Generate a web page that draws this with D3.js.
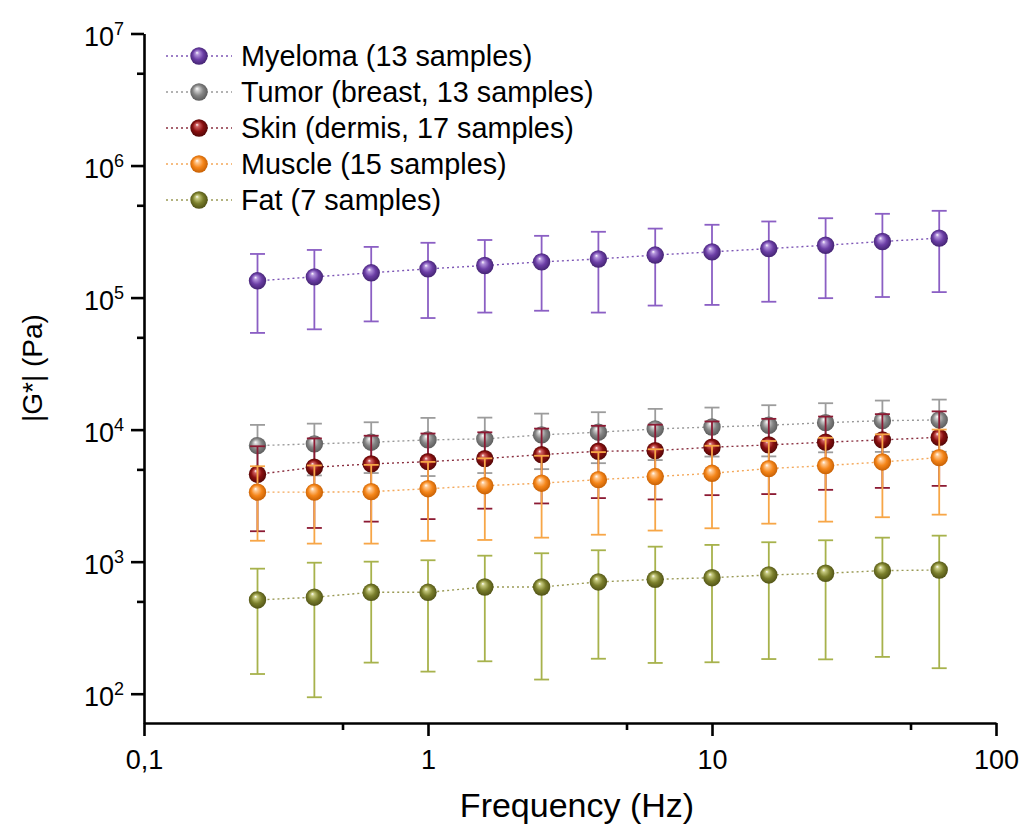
<!DOCTYPE html>
<html>
<head>
<meta charset="utf-8">
<script src="https://cdn.jsdelivr.net/npm/d3@7"></script>
<style>
  body { margin: 0; background: #fff; }
  svg { font-family: "Liberation Sans", Arial, sans-serif; }
</style>
</head>
<body>
<svg id="chart" width="1027" height="830"></svg>
<script>
const freq = [0.251, 0.398, 0.631, 1, 1.585, 2.512, 3.981, 6.31, 10, 15.85, 25.12, 39.81, 63.1];

const myelomaMean = [134000, 143500, 154000, 165000, 175000, 186500, 196000, 210000, 222000, 235000, 249000, 266000, 282000];
const myelomaSD = [80000, 86000, 88000, 95000, 98000, 107000, 119000, 123000, 134000, 142000, 150000, 165000, 172000];
const tumorMean = [7570, 7800, 8030, 8360, 8510, 9120, 9560, 10120, 10470, 10790, 11290, 11690, 11840];
const tumorSD = [3290, 3300, 3340, 3910, 3820, 4100, 3990, 4240, 4220, 4520, 4560, 4910, 5040];
const skinMean = [4590, 5190, 5500, 5720, 6030, 6470, 6860, 6930, 7360, 7660, 8030, 8360, 8750];
const skinSD = [2890, 3390, 3490, 3620, 3510, 3710, 3830, 3970, 4170, 4410, 4530, 4740, 5000];
const muscleMean = [3360, 3360, 3390, 3570, 3760, 3930, 4180, 4410, 4670, 5070, 5340, 5690, 6140];
const muscleSD = [1920, 1990, 2020, 2130, 2300, 2410, 2580, 2690, 2880, 3130, 3330, 3520, 3870];
const fatMean = [513, 538, 586, 586, 643, 643, 702, 735, 756, 793, 817, 855, 865];
const fatSD = [372, 444, 414, 439, 467, 515, 518, 564, 583, 610, 635, 665, 709];

const seriesNames = ["Myeloma (13 samples)", "Tumor (breast, 13 samples)", "Skin (dermis, 17 samples)", "Muscle (15 samples)", "Fat (7 samples)"];
const xTicks = [0.1, 1, 10, 100];
const xTickLabels = ["0,1", "1", "10", "100"];
const yTicks = [1e2, 1e3, 1e4, 1e5, 1e6, 1e7];

const series = [
  { name: seriesNames[0], mean: myelomaMean, sd: myelomaSD, id: "mye", fill: "#6c3fa6", light: "#b394dc", dark: "#3d1f6a", bar: "#8b5fc4", line: "#7d55b5" },
  { name: seriesNames[1], mean: tumorMean, sd: tumorSD, id: "tum", fill: "#858585", light: "#d0d0d0", dark: "#555555", bar: "#9c9c9c", line: "#999999" },
  { name: seriesNames[2], mean: skinMean, sd: skinSD, id: "skn", fill: "#8a1010", light: "#d06060", dark: "#4a0505", bar: "#8c1a33", line: "#8a3040" },
  { name: seriesNames[3], mean: muscleMean, sd: muscleSD, id: "mus", fill: "#f5861a", light: "#ffc890", dark: "#c05a00", bar: "#f7a647", line: "#f4a85a" },
  { name: seriesNames[4], mean: fatMean, sd: fatSD, id: "fat", fill: "#7b7f2c", light: "#c6c97e", dark: "#4a4c12", bar: "#a7b24c", line: "#9a9a55" }
];

const svg = d3.select("#chart");

const x = d3.scaleLog().domain([0.1, 100]).range([144, 996]);
const y = d3.scaleLog().domain([60, 1e7]).range([723, 33.5]);

// sphere gradients
const defs = svg.append("defs");
series.forEach((s) => {
  const g = defs.append("radialGradient")
    .attr("id", "grad-" + s.id)
    .attr("cx", "50%").attr("cy", "50%").attr("r", "55%")
    .attr("fx", "38%").attr("fy", "30%");
  g.append("stop").attr("offset", "0%").attr("stop-color", "#ffffff");
  g.append("stop").attr("offset", "18%").attr("stop-color", s.light);
  g.append("stop").attr("offset", "55%").attr("stop-color", s.fill);
  g.append("stop").attr("offset", "100%").attr("stop-color", s.dark);
});

// axes
const xAxis = d3.axisBottom(x).tickValues(xTicks).tickSize(13).tickSizeOuter(0)
  .tickFormat((d, i) => xTickLabels[i]);
const xMinor = d3.axisBottom(x).tickValues([0.5, 5, 50]).tickSize(7).tickFormat("");
const yAxis = d3.axisLeft(y).tickValues(yTicks).tickSize(13).tickSizeOuter(0).tickFormat("");
const yMinor = d3.axisLeft(y).tickValues([500, 5000, 50000, 500000, 5000000]).tickSize(7).tickFormat("");

const gx = svg.append("g").attr("transform", "translate(0,723)").call(xAxis);
svg.append("g").attr("transform", "translate(0,723)").call(xMinor).select(".domain").remove();
const gy = svg.append("g").attr("transform", "translate(144,0)").call(yAxis);
svg.append("g").attr("transform", "translate(144,0)").call(yMinor).select(".domain").remove();

svg.selectAll(".domain").attr("stroke", "#000").attr("stroke-width", 2.6);
svg.selectAll(".tick line").attr("stroke", "#000").attr("stroke-width", 2.6);

gx.selectAll("text")
  .attr("y", 0).attr("dy", null)
  .attr("transform", "translate(0,46)")
  .style("font-size", "27px").attr("fill", "#000");

gy.selectAll(".tick").each(function (d) {
  const t = d3.select(this).append("text")
    .attr("x", -20).attr("y", 12)
    .attr("text-anchor", "end")
    .attr("fill", "#000")
    .style("font-size", "27px");
  t.append("tspan").text("10");
  t.append("tspan").attr("dy", -11).style("font-size", "18px").text(Math.round(Math.log10(d)));
});

// axis titles
svg.append("text")
  .attr("x", 577).attr("y", 817)
  .attr("text-anchor", "middle")
  .style("font-size", "34px")
  .text("Frequency (Hz)");

svg.append("text")
  .attr("transform", "translate(42,368) rotate(-90)")
  .attr("text-anchor", "middle")
  .style("font-size", "28px")
  .text("|G*| (Pa)");

// data
const line = d3.line().x((d, i) => x(freq[i])).y((d) => y(d));
const capW = 7.5;

series.forEach((s) => {
  const g = svg.append("g");
  const bars = g.selectAll(".err").data(s.mean).join("g").attr("class", "err")
    .attr("stroke", s.bar).attr("stroke-width", 1.8);
  bars.append("line")
    .attr("x1", (d, i) => x(freq[i])).attr("x2", (d, i) => x(freq[i]))
    .attr("y1", (d, i) => y(d + s.sd[i])).attr("y2", (d, i) => y(Math.max(d - s.sd[i], 61)));
  bars.append("line")
    .attr("x1", (d, i) => x(freq[i]) - capW).attr("x2", (d, i) => x(freq[i]) + capW)
    .attr("y1", (d, i) => y(d + s.sd[i])).attr("y2", (d, i) => y(d + s.sd[i]));
  bars.append("line")
    .attr("x1", (d, i) => x(freq[i]) - capW).attr("x2", (d, i) => x(freq[i]) + capW)
    .attr("y1", (d, i) => y(d - s.sd[i])).attr("y2", (d, i) => y(d - s.sd[i]));

  g.append("path")
    .datum(s.mean)
    .attr("d", line)
    .attr("fill", "none")
    .attr("stroke", s.line)
    .attr("stroke-width", 1.4)
    .attr("stroke-dasharray", "2,3");

  g.selectAll("circle").data(s.mean).join("circle")
    .attr("cx", (d, i) => x(freq[i]))
    .attr("cy", (d) => y(d))
    .attr("r", 8.7)
    .attr("fill", "url(#grad-" + s.id + ")");
});

// legend
const legend = svg.append("g");
series.forEach((s, i) => {
  const ly = 56 + i * 36;
  legend.append("line")
    .attr("x1", 166).attr("x2", 232).attr("y1", ly).attr("y2", ly)
    .attr("stroke", s.line).attr("stroke-width", 1.3).attr("stroke-dasharray", "2,3");
  legend.append("circle")
    .attr("cx", 199).attr("cy", ly).attr("r", 8.7)
    .attr("fill", "url(#grad-" + s.id + ")");
  legend.append("text")
    .attr("x", 241).attr("y", ly + 10)
    .style("font-size", "28.8px")
    .attr("fill", "#000")
    .text(s.name);
});
</script>
</body>
</html>
